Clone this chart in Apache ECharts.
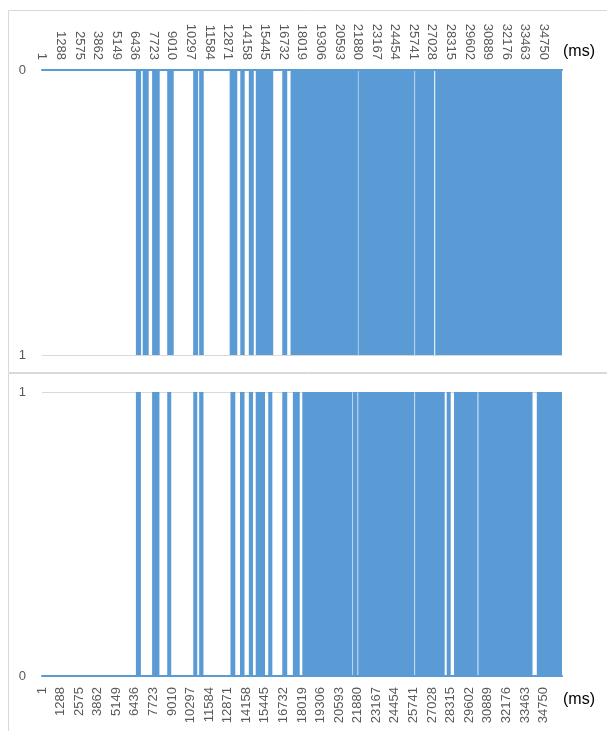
<!DOCTYPE html>
<html>
<head>
<meta charset="utf-8">
<script src="https://cdn.jsdelivr.net/npm/echarts@6/dist/echarts.min.js"></script>
<style>
  html, body { margin: 0; padding: 0; background: #fff; }
  #chart { width: 607px; height: 731px; }
</style>
</head>
<body>
<div id="chart"></div>
<script>
// sample index (ms) where the signal switches on / off
const topOn  = [6506, 6978, 7630, 8677, 10474, 10890, 13005, 13740, 14330, 14815, 16647, 17222, 21926, 25851, 27246];
const topOff = [6867, 7394, 8157, 9128, 10820, 11209, 13532, 14046, 14677, 16022, 16993, 21890, 25809, 27176, 36030];

const bottomOn  = [6507, 7630, 8678, 10481, 10890, 13061, 13720, 14331, 14809, 15677, 16648, 17383, 18035, 21551, 21911, 25851, 28043, 28549, 30235, 34285];
const bottomOff = [6854, 8137, 8955, 10759, 11189, 13394, 14033, 14623, 15455, 15961, 16994, 17861, 21510, 21863, 25802, 27904, 28320, 30179, 33987, 36030];

const lastSample = 36030;
const tickStep = 1287; // labels 1, 1288, 2575 ...

// each "on" run becomes one block from 0 to 1 (axis value = sample - 1)
const toRuns = (on, off) => on.map((a, i) => [a - 1, off[i] - 1]);

const renderRun = (params, api) => {
  const p0 = api.coord([api.value(0), 0]);
  const p1 = api.coord([api.value(1), 1]);
  return {
    type: 'rect',
    shape: {
      x: p0[0],
      y: Math.min(p0[1], p1[1]),
      width: p1[0] - p0[0],
      height: Math.abs(p1[1] - p0[1])
    },
    style: { fill: api.visual('color') }
  };
};

const labelColor = '#595959';
const blue = '#5B9BD5';
const font = 'Liberation Sans';

const xAxisBase = {
  type: 'value',
  min: 0,
  max: lastSample,
  interval: tickStep,
  axisLine: { show: true, onZero: false, lineStyle: { color: blue, width: 2 } },
  axisTick: { show: false },
  splitLine: { show: false },
  axisLabel: {
    rotate: 90,
    color: labelColor,
    fontFamily: font,
    fontSize: 13,
    showMaxLabel: false,
    formatter: v => String(v + 1)
  }
};

const yAxisBase = {
  type: 'value',
  min: 0,
  max: 1,
  interval: 1,
  axisLine: { show: false },
  axisTick: { show: false },
  splitLine: { show: true, lineStyle: { color: '#d9d9d9', width: 1 } },
  axisLabel: { color: labelColor, fontFamily: font, fontSize: 13, margin: 16 }
};

const chart = echarts.init(document.getElementById('chart'), null, { renderer: 'canvas' });

chart.setOption({
  animation: false,
  grid: [
    { left: 42, right: 45, top: 70, height: 285 },
    { left: 42, right: 45, top: 392, height: 284 }
  ],
  xAxis: [
    Object.assign({}, xAxisBase, { gridIndex: 0, position: 'top', axisLabel: Object.assign({}, xAxisBase.axisLabel, { margin: 10 }) }),
    Object.assign({}, xAxisBase, { gridIndex: 1, position: 'bottom', axisLabel: Object.assign({}, xAxisBase.axisLabel, { margin: 11 }) })
  ],
  yAxis: [
    Object.assign({}, yAxisBase, { gridIndex: 0, inverse: true }),
    Object.assign({}, yAxisBase, { gridIndex: 1 })
  ],
  graphic: [
    { type: 'rect', shape: { x: 8.5, y: 10.5, width: 610, height: 362 }, style: { fill: 'none', stroke: '#d9d9d9', lineWidth: 1 }, silent: true },
    { type: 'rect', shape: { x: 8.5, y: 373.5, width: 610, height: 370 }, style: { fill: 'none', stroke: '#d9d9d9', lineWidth: 1 }, silent: true },
    { type: 'text', left: 563, top: 44, style: { text: '(ms)', fontFamily: font, fontSize: 16, fill: '#000' } },
    { type: 'text', left: 563, top: 692, style: { text: '(ms)', fontFamily: font, fontSize: 16, fill: '#000' } }
  ],
  series: [
    {
      type: 'custom',
      xAxisIndex: 0,
      yAxisIndex: 0,
      itemStyle: { color: blue },
      renderItem: renderRun,
      data: toRuns(topOn, topOff)
    },
    {
      type: 'custom',
      xAxisIndex: 1,
      yAxisIndex: 1,
      itemStyle: { color: blue },
      renderItem: renderRun,
      data: toRuns(bottomOn, bottomOff)
    }
  ]
});
</script>
</body>
</html>
